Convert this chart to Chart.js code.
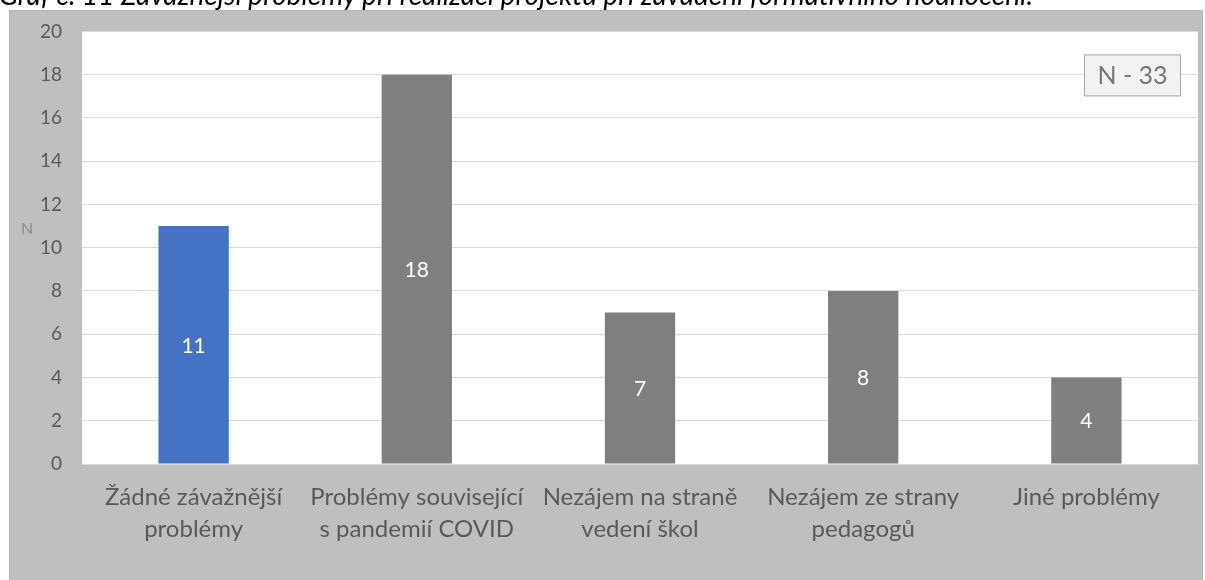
<!DOCTYPE html>
<html lang="cs">
<head>
<meta charset="utf-8">
<title>Graf č. 11</title>
<script src="https://cdn.jsdelivr.net/npm/chart.js@4.4.1/dist/chart.umd.min.js"></script>
<style>
  html, body { margin: 0; padding: 0; background: #ffffff; }
  #wrap { position: relative; width: 1205px; height: 580px; overflow: hidden; }
  #title {
    position: absolute; left: -1px; top: -20px; white-space: nowrap;
    font-family: Lato, "Open Sans", sans-serif; font-style: italic;
    font-size: 28px; line-height: 28px; color: #000000; z-index: 2;
  }
  canvas { position: absolute; left: 0; top: 0; }
</style>
</head>
<body>
<div id="wrap">
  <div id="title">Graf č. 11 Závažnější problémy při realizaci projektu při zavádění formativního hodnocení.</div>
  <canvas id="chart" width="1205" height="580"></canvas>
</div>
<script>
// Problem categories (two-line axis labels) and respondent counts
const categories = [
  ["Žádné závažnější", "problémy"],
  ["Problémy související", "s pandemií COVID"],
  ["Nezájem na straně", "vedení škol"],
  ["Nezájem ze strany", "pedagogů"],
  ["Jiné problémy"]
];
const counts = [11, 18, 7, 8, 4];
const barColors = ["#4472C4", "#7F7F7F", "#7F7F7F", "#7F7F7F", "#7F7F7F"];
const yTicks = [0, 2, 4, 6, 8, 10, 12, 14, 16, 18, 20];
const sampleNote = "N - 33";
const yAxisName = "N";

const FONT = "Lato, 'Open Sans', sans-serif";

// Gray panel behind the chart and white plotting area
const panelPlugin = {
  id: "panel",
  beforeDraw(chart) {
    const { ctx, chartArea: a } = chart;
    ctx.save();
    ctx.fillStyle = "#BFBFBF";
    ctx.fillRect(9, 10, 1194, 575);
    ctx.strokeStyle = "#B3B3B3";
    ctx.lineWidth = 1;
    ctx.strokeRect(9.5, 10.5, 1193, 575);
    ctx.fillStyle = "#FFFFFF";
    ctx.fillRect(a.left, a.top, a.right - a.left, a.bottom - a.top);
    ctx.restore();
  }
};

// Value labels in the middle of each bar, axis name and the sample-size box
const labelPlugin = {
  id: "labels",
  afterDatasetsDraw(chart) {
    const { ctx, chartArea: a } = chart;
    const meta = chart.getDatasetMeta(0);
    ctx.save();
    ctx.font = "21px " + FONT;
    ctx.fillStyle = "#FFFFFF";
    ctx.textAlign = "center";
    ctx.textBaseline = "middle";
    meta.data.forEach((bar, i) => {
      ctx.fillText(String(counts[i]), bar.x, (bar.y + bar.base) / 2 + 1);
    });

    // axis name
    ctx.font = "16px " + FONT;
    ctx.fillStyle = "#8C8C8C";
    ctx.fillText(yAxisName, 27, a.top + 197);

    // sample-size box
    const bx = a.right - 114, by = a.top + 23, bw = 97, bh = 42;
    ctx.fillStyle = "#F2F2F2";
    ctx.fillRect(bx, by, bw, bh);
    ctx.strokeStyle = "#A6A6A6";
    ctx.lineWidth = 1;
    ctx.strokeRect(bx + 0.5, by + 0.5, bw - 1, bh - 1);
    ctx.font = "25px " + FONT;
    ctx.fillStyle = "#767676";
    ctx.fillText(sampleNote, bx + bw / 2, by + bh / 2 + 1);
    ctx.restore();
  }
};

new Chart(document.getElementById("chart"), {
  type: "bar",
  data: {
    labels: categories,
    datasets: [{
      data: counts,
      backgroundColor: barColors,
      borderWidth: 0,
      barPercentage: 0.315,
      categoryPercentage: 1.0
    }]
  },
  options: {
    responsive: false,
    animation: false,
    devicePixelRatio: 1,
    layout: { padding: { left: 0, top: 28, right: 7, bottom: 0 } },
    plugins: {
      legend: { display: false },
      tooltip: { enabled: false },
      title: { display: false }
    },
    scales: {
      x: {
        grid: { display: false, drawTicks: false },
        border: { display: true, color: "#D9D9D9", width: 1 },
        ticks: {
          color: "#595959",
          font: { family: FONT, size: 24, lineHeight: 1.3 },
          padding: 18,
          maxRotation: 0,
          autoSkip: false
        },
        afterFit(scale) { scale.height = 116; }
      },
      y: {
        min: 0,
        max: 20,
        afterBuildTicks(scale) { scale.ticks = yTicks.map(v => ({ value: v })); },
        grid: { color: "#D9D9D9", lineWidth: 1, drawTicks: false },
        border: { display: false },
        ticks: {
          color: "#595959",
          font: { family: FONT, size: 19 },
          padding: 20
        },
        afterFit(scale) { scale.width = 82; }
      }
    }
  },
  plugins: [panelPlugin, labelPlugin]
});
</script>
</body>
</html>
